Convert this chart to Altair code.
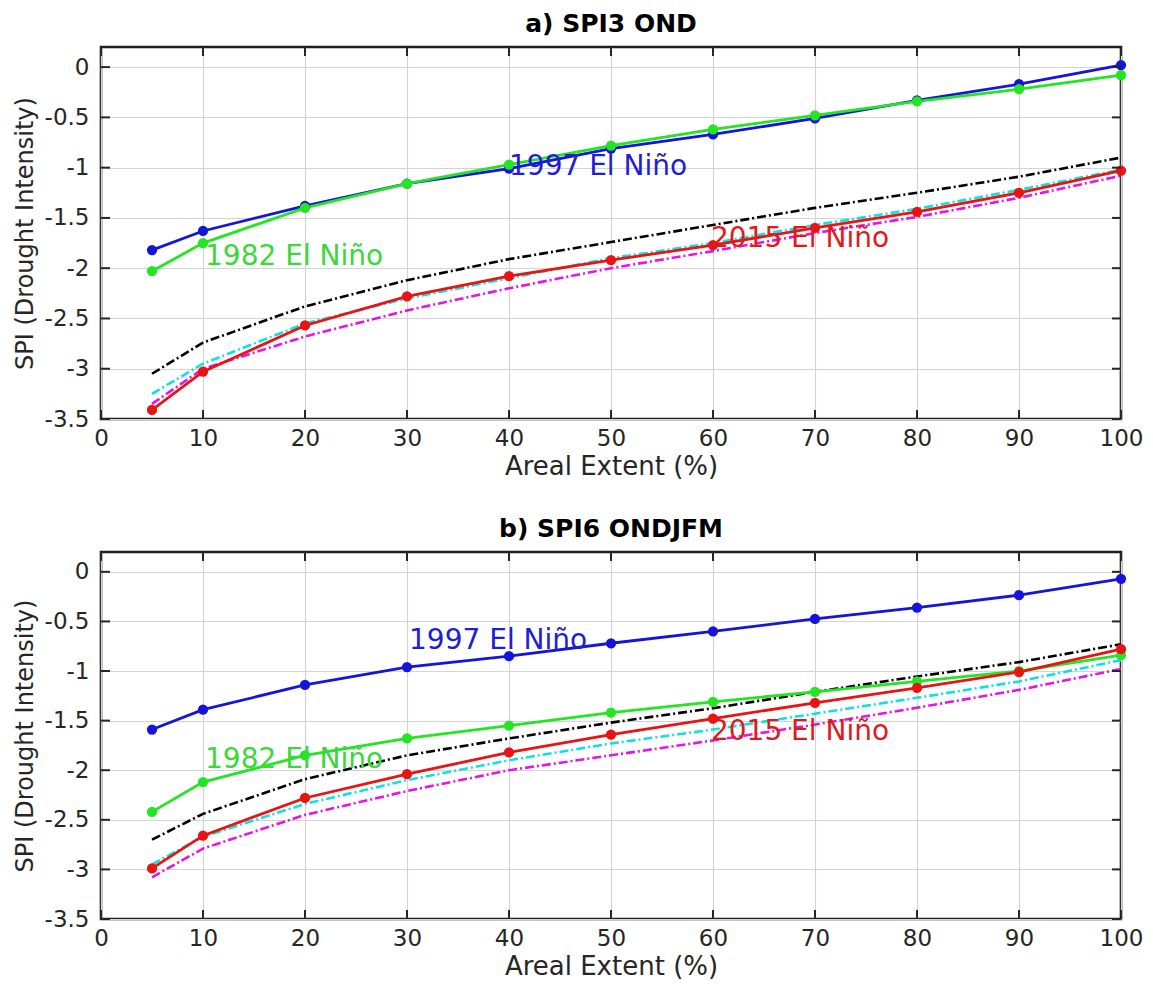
import altair as alt
import pandas as pd

# ---------------- data ----------------
pct = [5, 10, 20, 30, 40, 50, 60, 70, 80, 90, 100]

a_1997 = [-1.82, -1.63, -1.38, -1.16, -1.01, -0.81, -0.67, -0.51, -0.33, -0.17, 0.02]
a_1982 = [-2.03, -1.75, -1.40, -1.16, -0.97, -0.78, -0.62, -0.48, -0.34, -0.22, -0.08]
a_2015 = [-3.41, -3.03, -2.57, -2.28, -2.08, -1.92, -1.77, -1.60, -1.44, -1.25, -1.03]
a_black = [-3.05, -2.74, -2.38, -2.12, -1.91, -1.74, -1.57, -1.40, -1.25, -1.09, -0.90]
a_cyan = [-3.25, -2.95, -2.55, -2.30, -2.10, -1.90, -1.75, -1.57, -1.41, -1.22, -1.02]
a_mag = [-3.35, -3.00, -2.68, -2.42, -2.20, -2.00, -1.83, -1.65, -1.49, -1.30, -1.08]

b_1997 = [-1.59, -1.39, -1.14, -0.96, -0.85, -0.72, -0.60, -0.475, -0.36, -0.235, -0.07]
b_1982 = [-2.42, -2.12, -1.85, -1.68, -1.55, -1.42, -1.31, -1.21, -1.105, -1.00, -0.84]
b_2015 = [-2.99, -2.66, -2.28, -2.04, -1.82, -1.64, -1.48, -1.32, -1.17, -1.01, -0.78]
b_black = [-2.70, -2.44, -2.09, -1.85, -1.68, -1.52, -1.375, -1.21, -1.055, -0.91, -0.73]
b_cyan = [-2.95, -2.67, -2.34, -2.10, -1.90, -1.73, -1.59, -1.43, -1.27, -1.105, -0.89]
b_mag = [-3.08, -2.79, -2.45, -2.21, -2.00, -1.85, -1.70, -1.54, -1.37, -1.19, -0.98]

solid_names = ["1997", "1982", "2015"]
dash_names = ["black", "cyan", "magenta"]
solid_colors = ["#1414dc", "#22e622", "#e81414"]
dash_colors = ["#000000", "#12e0e0", "#e614e6"]

label_texts = ["1997 El Niño", "1982 El Niño", "2015 El Niño"]
label_colors = ["#1e1ed2", "#3ad83a", "#dc1c1c"]
a_label_x = [40.0, 10.2, 59.8]
a_label_y = [-0.99, -1.89, -1.71]
b_label_x = [30.2, 10.2, 59.8]
b_label_y = [-0.70, -1.90, -1.61]

x_ticks = [0, 10, 20, 30, 40, 50, 60, 70, 80, 90, 100]
y_ticks = [-3.5, -3, -2.5, -2, -1.5, -1, -0.5, 0]

W = 1020
FONT = "DejaVu Sans"
TXT = "#262626"


def panel(title, solids, dashes, lab_x, lab_y, h):
    rows = []
    for name, vals in zip(solid_names, solids):
        for x, y in zip(pct, vals):
            rows.append({"series": name, "x": x, "y": y})
    solid_df = pd.DataFrame(rows)
    rows = []
    for name, vals in zip(dash_names, dashes):
        for x, y in zip(pct, vals):
            rows.append({"dseries": name, "x": x, "y": y})
    dash_df = pd.DataFrame(rows)
    lab_df = pd.DataFrame({"text": label_texts, "x": lab_x, "y": lab_y})

    xs = alt.Scale(domain=[0, 100], nice=False, zero=False)
    ys = alt.Scale(domain=[-3.5, 0.2], nice=False, zero=False)
    xax = alt.Axis(values=x_ticks, grid=True, gridColor="#d4d4d4", gridWidth=1.2,
                   ticks=False, domain=False, labelFontSize=23, labelPadding=8,
                   labelFlush=False, labelOverlap=False,
                   labelColor=TXT, labelFont=FONT, title="Areal Extent (%)",
                   titleFontSize=26, titleFontWeight="normal", titleColor=TXT,
                   titleFont=FONT, titlePadding=3)
    yax = alt.Axis(values=y_ticks, grid=True, gridColor="#d4d4d4", gridWidth=1.2,
                   ticks=False, domain=False, labelFontSize=23, labelPadding=12,
                   labelFlush=False, labelOverlap=False,
                   labelColor=TXT, labelFont=FONT,
                   labelExpr="replace(format(datum.value, '~g'), '\u2212', '-')",
                   title="SPI (Drought Intensity)", titleFontSize=24,
                   titleFontWeight="normal", titleColor=TXT, titleFont=FONT,
                   titlePadding=7)

    X = alt.X("x:Q", scale=xs, axis=xax)
    Y = alt.Y("y:Q", scale=ys, axis=yax)

    dash_layer = alt.Chart(dash_df).mark_line(strokeWidth=2.6, strokeDash=[9, 3, 2, 3]).encode(
        x=X, y=Y,
        stroke=alt.Stroke("dseries:N", scale=alt.Scale(domain=dash_names, range=dash_colors), legend=None),
    )
    csolid = alt.Color("series:N", scale=alt.Scale(domain=solid_names, range=solid_colors), legend=None)
    solid_line = alt.Chart(solid_df).mark_line(strokeWidth=2.8).encode(x=X, y=Y, color=csolid)
    solid_pts = alt.Chart(solid_df).mark_point(filled=True, size=105, opacity=1).encode(x=X, y=Y, color=csolid)
    text_layer = alt.Chart(lab_df).mark_text(align="left", baseline="middle", fontSize=28,
                                             font=FONT).encode(
        x=X, y=Y, text="text:N",
        fill=alt.Fill("text:N", scale=alt.Scale(domain=label_texts, range=label_colors), legend=None),
    )

    xt = pd.DataFrame({"x": x_ticks})
    yt = pd.DataFrame({"y": y_ticks})
    tick_top = alt.Chart(xt).mark_rule(color=TXT, strokeWidth=2).encode(
        x=alt.X("x:Q", scale=xs), y=alt.value(0), y2=alt.value(9))
    tick_bot = alt.Chart(xt).mark_rule(color=TXT, strokeWidth=2).encode(
        x=alt.X("x:Q", scale=xs), y=alt.value(h), y2=alt.value(h - 9))
    tick_left = alt.Chart(yt).mark_rule(color=TXT, strokeWidth=2).encode(
        y=alt.Y("y:Q", scale=ys), x=alt.value(0), x2=alt.value(9))
    tick_right = alt.Chart(yt).mark_rule(color=TXT, strokeWidth=2).encode(
        y=alt.Y("y:Q", scale=ys), x=alt.value(W), x2=alt.value(W - 9))

    return alt.layer(
        dash_layer, solid_line, solid_pts, text_layer,
        tick_top, tick_bot, tick_left, tick_right,
    ).resolve_scale(
        color="independent", stroke="independent", fill="independent"
    ).properties(
        width=W, height=h,
        title=alt.TitleParams(title, fontSize=25, fontWeight="bold", font=FONT,
                              color="#000000", anchor="middle", offset=9),
    )


top = panel("a) SPI3 OND", [a_1997, a_1982, a_2015], [a_black, a_cyan, a_mag],
            a_label_x, a_label_y, 372)
bot = panel("b) SPI6 ONDJFM", [b_1997, b_1982, b_2015], [b_black, b_cyan, b_mag],
            b_label_x, b_label_y, 367)

chart = alt.vconcat(top, bot, spacing=34).properties(
    padding={"left": 3, "top": 2, "right": 0, "bottom": 0}
).configure(
    background="white",
    view=alt.ViewConfig(stroke="#1e1e1e", strokeWidth=2.6),
)

chart.save("out.html", embed_options={"renderer": "svg", "actions": False})
